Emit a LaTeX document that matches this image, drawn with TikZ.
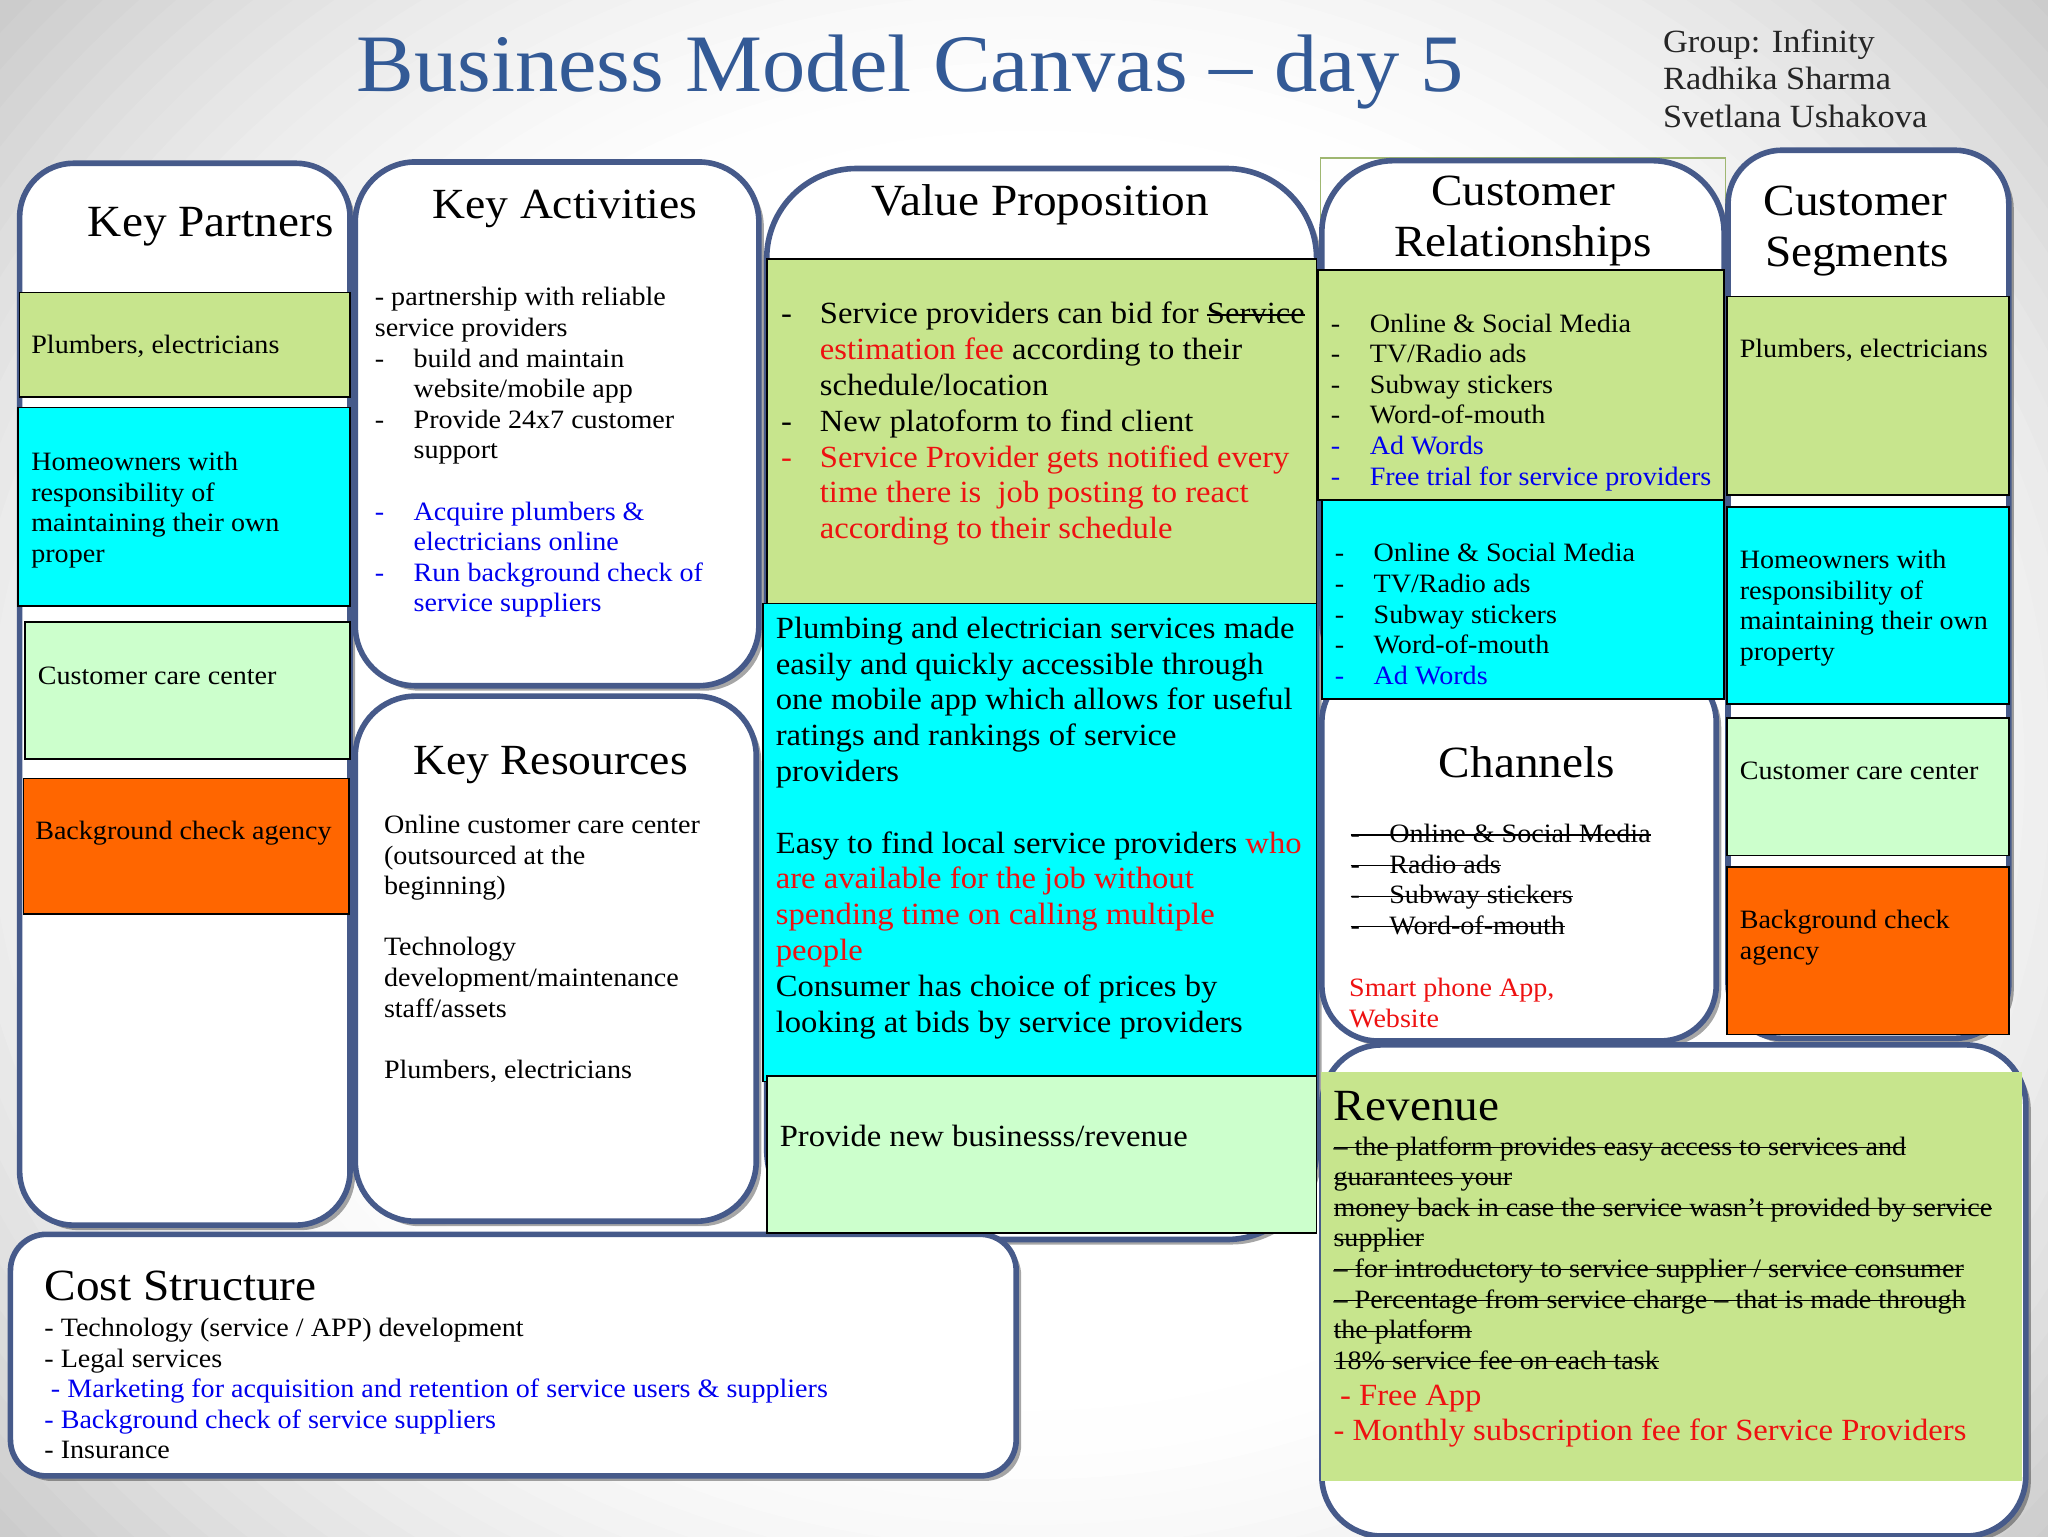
\documentclass[tikz,border=0pt]{standalone}
\usepackage{fontspec}
\usetikzlibrary{shadows}
\setmainfont[FakeStretch=1.06]{Liberation Serif}
\newsavebox\strikebox
\newcommand\strk[1]{\leavevmode\sbox\strikebox{#1}\rlap{\rule[0.27em]{\wd\strikebox}{0.55pt}}\usebox\strikebox}
\definecolor{bandblue}{HTML}{465A8A}
\definecolor{titleblue}{HTML}{335A96}
\definecolor{cgreen}{HTML}{C7E58D}
\definecolor{ccyan}{HTML}{00FFFF}
\definecolor{cpale}{HTML}{CCFFCC}
\definecolor{corange}{HTML}{FF6600}
\definecolor{credd}{HTML}{EE1111}
\definecolor{cblue}{HTML}{0000EE}
\newcommand\fbody{\fontsize{13.25}{15.3}\selectfont}
\newcommand\fbig{\fontsize{15.4}{17.9}\selectfont}
\newcommand\fgroup{\fontsize{16.2}{18.6}\selectfont}
\newcommand\fhead{\fontsize{21.5}{25.5}\selectfont}
\newcommand\fheadx{\fontsize{22.3}{25.5}\selectfont}
\newcommand\ditem{\makebox[19.4pt][l]{-}}
\newcommand\dcont{\hspace*{19.4pt}}
\tikzset{
  band/.style={draw=bandblue,line width=2.8pt,fill=white,drop shadow={shadow xshift=2.5pt,shadow yshift=-2.5pt,opacity=.35,fill=black}},
  cell/.style={draw=black,line width=.9pt},
  txt/.style={anchor=north west,inner sep=0pt,outer sep=0pt,align=left,yshift=10.71pt,font=\fbody,execute at begin node=\strut},
  big/.style={txt,font=\fbig,yshift=1.82pt},
  ml/.style={yshift=-1.65pt},
  head/.style={anchor=base,inner sep=0pt,font=\fheadx},
  headl/.style={anchor=base west,inner sep=0pt,font=\fheadx},
  headn/.style={anchor=base west,inner sep=0pt,font=\fhead},
}
\begin{document}
\begin{tikzpicture}[x=0.65306pt,y=-0.65306pt]
\useasboundingbox (0,0) rectangle (1568,1176);
\begin{scope}
\clip (0,0) rectangle (1568,1176);
\fill[black!24] (0,0) rectangle (1568,1176);
\foreach \t in {1.50,1.475,...,0.70}{
  \pgfmathsetmacro\g{20*pow(max(\t-0.7,0)/0.6,1.5)}
  \pgfmathsetmacro\rx{800*\t}
  \pgfmathsetmacro\ry{700*\t}
  \fill[black!\g!white] (790,590) ellipse [x radius=\rx,y radius=\ry];
}
\end{scope}
% title and group
\node[anchor=base,inner sep=0pt,text=titleblue,font=\fontsize{40.8}{48}\selectfont] (title) at (697,70) {Business Model Canvas -- day 5};
\node[anchor=north west,inner sep=0pt,align=left,font=\fgroup,execute at begin node=\strut,yshift=11.4pt,text=black!85] (group) at (1273,40) {Group: Infinity\\Radhika Sharma\\Svetlana Ushakova};
% bands
\path[band,rounded corners=45pt] (587,129) rectangle (1008,949);
\path[band,rounded corners=27pt] (15,125) rectangle (268,938);
\path[band,rounded corners=30pt] (272,124) rectangle (581,525);
\path[band,rounded corners=30pt] (272,533) rectangle (579,935);
\draw[draw=cgreen!80!black,line width=.7pt] (1011,121) rectangle (1321,207);
\path[band,rounded corners=36pt] (1012,123) rectangle (1320,530);
\path[band,rounded corners=27pt] (1323,115) rectangle (1538,795);
\path[band,rounded corners=28pt] (1012,510) rectangle (1314,797);
\path[band,rounded corners=30pt] (1012,800) rectangle (1551,1176);
\path[band,rounded corners=18pt] (8,945) rectangle (778,1130);
% coloured cells
\path[cell,fill=cgreen] (15,224) rectangle (268,304);
\path[cell,fill=ccyan] (14,312) rectangle (268,464);
\path[cell,fill=cpale] (19,476) rectangle (268,581);
\path[cell,fill=corange] (18,596) rectangle (267,700);
\path[cell,fill=cgreen] (587,198) rectangle (1008,462);
\path[cell,fill=ccyan] (584,462) rectangle (1008,828);
\path[cell,fill=cpale] (587,824) rectangle (1008,944);
\path[cell,fill=cgreen] (1009,207) rectangle (1320,383);
\path[cell,fill=ccyan] (1012,383) rectangle (1320,535);
\path[cell,fill=cgreen] (1322,227) rectangle (1538,379);
\path[cell,fill=ccyan] (1322,388) rectangle (1538,539);
\path[cell,fill=cpale] (1322,550) rectangle (1538,655);
\path[cell,fill=corange] (1322,664) rectangle (1538,792);
\path[fill=cgreen] (1011,821) rectangle (1548,1134);
% Key Partners
\node[headl] (kptitle) at (67,181) {Key Partners};
\node[txt] (kp1) at (24,271) {Plumbers, electricians};
\node[txt,ml] (kp2) at (24,360) {Homeowners with\\responsibility of\\maintaining their own\\proper};
\node[txt] (kp3) at (29,524) {Customer care center};
\node[txt] (kp4) at (27,643) {Background check agency};
% Key Activities
\node[headn] (katitle) at (331,167) {Key Activities};
\node[txt,ml] (ka1) at (287,234) {- partnership with reliable\\service providers\\\ditem build and maintain\\\dcont website/mobile app\\\ditem Provide 24x7 customer\\\dcont support\\[15.3pt]\textcolor{cblue}{\ditem Acquire plumbers \&}\\\dcont\textcolor{cblue}{electricians online}\\\textcolor{cblue}{\ditem Run background check of}\\\dcont\textcolor{cblue}{service suppliers}};
% Key Resources
\node[headn] (krtitle) at (316,593) {Key Resources};
\node[txt,ml] (kr1) at (294,638) {Online customer care center\\(outsourced at the\\beginning)\\[15.3pt]Technology\\development/maintenance\\staff/assets\\[15.3pt]Plumbers, electricians};
% Value Proposition
\node[headl] (vptitle) at (667,165) {Value Proposition};
\node[big,ml] (vp1) at (598,248) {\ditem Service providers can bid for \strk{Service}\\\dcont\textcolor{credd}{estimation fee} according to their\\\dcont schedule/location\\\ditem New platoform to find client\\\textcolor{credd}{\ditem Service Provider gets notified every}\\\dcont\textcolor{credd}{time there is\ \ job posting to react}\\\dcont\textcolor{credd}{according to their schedule}};
\node[big,ml] (vp2) at (594,489) {Plumbing and electrician services made\\easily and quickly accessible through\\one mobile app which allows for useful\\ratings and rankings of service\\providers\\[17.9pt]Easy to find local service providers \textcolor{credd}{who}\\\textcolor{credd}{are available for the job without}\\\textcolor{credd}{spending time on calling multiple}\\\textcolor{credd}{people}\\Consumer has choice of prices by\\looking at bids by service providers};
\node[big] (vp3) at (597,878) {Provide new businesss/revenue};
% Customer Relationships
\node[head] (crt1) at (1166,157) {Customer};
\node[head] (crt2) at (1166,196) {Relationships};
\node[txt,ml] (cr1) at (1019,254) {\ditem Online \& Social Media\\\ditem TV/Radio ads\\\ditem Subway stickers\\\ditem Word-of-mouth\\\textcolor{cblue}{\ditem Ad Words}\\\textcolor{cblue}{\ditem Free trial for service providers}};
\node[txt,ml] (cr2) at (1022,430) {\ditem Online \& Social Media\\\ditem TV/Radio ads\\\ditem Subway stickers\\\ditem Word-of-mouth\\\textcolor{cblue}{\ditem Ad Words}};
% Customer Segments
\node[headl] (cst1) at (1350,165) {Customer};
\node[headl] (cst2) at (1351,204) {Segments};
\node[txt] (cs1) at (1332,274) {Plumbers, electricians};
\node[txt,ml] (cs2) at (1332,435) {Homeowners with\\responsibility of\\maintaining their own\\property};
\node[txt] (cs3) at (1332,597) {Customer care center};
\node[txt,ml] (cs4) at (1332,711) {Background check\\agency};
% Channels
\node[head] (chtitle) at (1169,595) {Channels};
\node[txt,ml] (ch1) at (1034,645) {\strk{\ditem Online \& Social Media}\\\strk{\ditem Radio ads}\\\strk{\ditem Subway stickers}\\\strk{\ditem Word-of-mouth}};
\node[txt,ml,text=credd] (ch2) at (1033,763) {Smart phone App,\\Website};
% Revenue
\node[headl] (revtitle) at (1021,858) {Revenue};
\node[txt,ml] (rev1) at (1021,884) {\strk{-- the platform provides easy access to services and}\\\strk{guarantees your}\\\strk{money back in case the service wasn’t provided by service}\\\strk{supplier}\\\strk{-- for introductory to service supplier / service consumer}\\\strk{-- Percentage from service charge -- that is made through}\\\strk{the platform}\\\strk{18\% service fee on each task}};
\node[big,text=credd] (rev2) at (1026,1076) {- Free App};
\node[big,text=credd] (rev3) at (1021,1103) {- Monthly subscription fee for Service Providers};
% Cost Structure
\node[headl] (costtitle) at (34,996) {Cost Structure};
\node[txt,ml] (cost1) at (34,1023) {- Technology (service / APP) development\\- Legal services};
\node[txt,text=cblue] (cost2) at (39,1070) {- Marketing for acquisition and retention of service users \& suppliers};
\node[txt,text=cblue] (cost3) at (34,1094) {- Background check of service suppliers};
\node[txt] (cost4) at (34,1117) {- Insurance};
\end{tikzpicture}
\end{document}
